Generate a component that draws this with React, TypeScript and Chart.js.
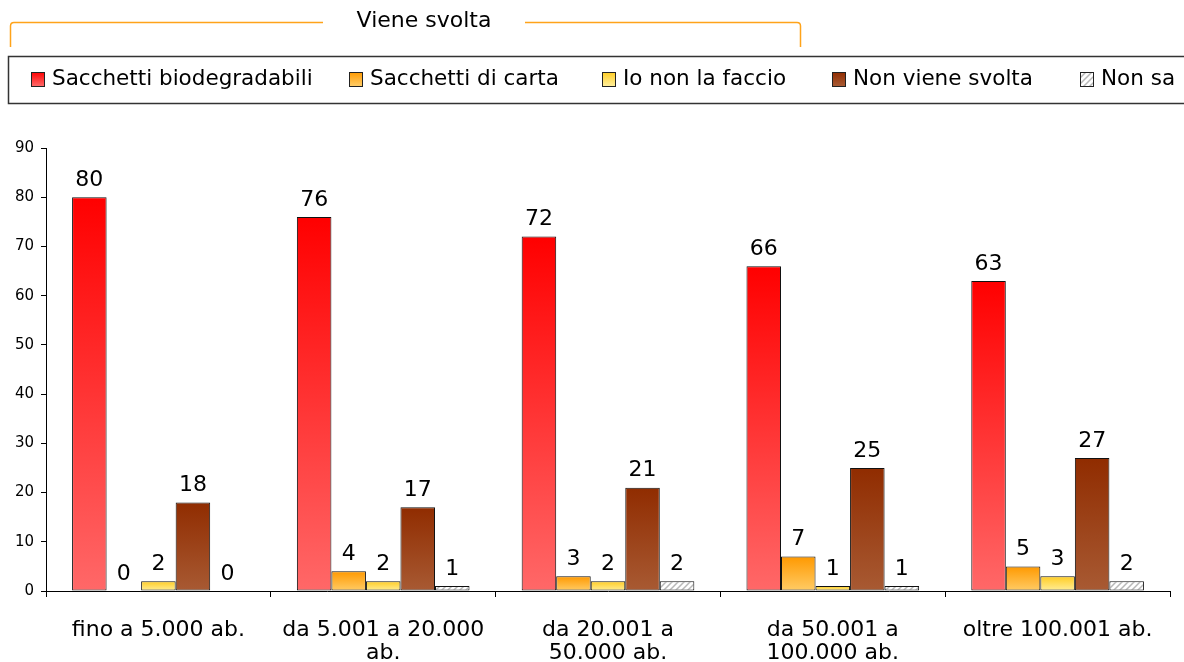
import React, { useEffect, useRef } from "react";
import { Chart, registerables } from "chart.js";

Chart.register(...registerables);

const categories: string[][] = [
  ["fino a 5.000 ab."],
  ["da 5.001 a 20.000", "ab."],
  ["da 20.001 a", "50.000 ab."],
  ["da 50.001 a", "100.000 ab."],
  ["oltre 100.001 ab."],
];
const seriesNames = [
  "Sacchetti biodegradabili",
  "Sacchetti di carta",
  "Io non la faccio",
  "Non viene svolta",
  "Non sa",
];
const biodegradabili = [80, 76, 72, 66, 63];
const carta = [0, 4, 3, 7, 5];
const nonLaFaccio = [2, 2, 2, 1, 3];
const nonVieneSvolta = [18, 17, 21, 25, 27];
const nonSa = [0, 1, 2, 1, 2];
const yMin = 0;
const yMax = 90;
const yStep = 10;
const bracketTitle = "Viene svolta";

const FONT = "'DejaVu Sans', Verdana, sans-serif";

// gradient colors [top, bottom]; null = hatch pattern
const seriesColors: ([string, string] | null)[] = [
  ["#FF0000", "#FF6868"],
  ["#FF9900", "#FFCC66"],
  ["#FFCC22", "#FFEE99"],
  ["#902C00", "#A85A33"],
  null,
];
const legendTextX = [52, 370, 623, 853, 1101];

function makeHatch(ctx: CanvasRenderingContext2D): CanvasPattern | string {
  const c = document.createElement("canvas");
  c.width = 6;
  c.height = 6;
  const p = c.getContext("2d");
  if (!p) return "#ddd";
  p.fillStyle = "#ffffff";
  p.fillRect(0, 0, 6, 6);
  p.strokeStyle = "#b8b8b8";
  p.lineWidth = 1.5;
  p.beginPath();
  p.moveTo(0, 6);
  p.lineTo(6, 0);
  p.moveTo(-3, 3);
  p.lineTo(3, -3);
  p.moveTo(3, 9);
  p.lineTo(9, 3);
  p.stroke();
  return ctx.createPattern(c, "repeat") || "#ddd";
}

const valueLabels = {
  id: "valueLabels",
  afterDatasetsDraw(chart: any) {
    const ctx = chart.ctx;
    ctx.save();
    ctx.font = `22px ${FONT}`;
    ctx.fillStyle = "#000";
    ctx.textAlign = "center";
    ctx.textBaseline = "bottom";
    chart.data.datasets.forEach((ds: any, i: number) => {
      const meta = chart.getDatasetMeta(i);
      meta.data.forEach((el: any, j: number) => {
        ctx.fillText(String(ds.data[j]), el.x, el.y - 6);
      });
    });
    ctx.restore();
  },
};

const headerPlugin = {
  id: "header",
  afterDraw(chart: any) {
    const ctx: CanvasRenderingContext2D = chart.ctx;
    ctx.save();
    // bracket
    ctx.strokeStyle = "#FFA31A";
    ctx.lineWidth = 1.5;
    ctx.beginPath();
    ctx.moveTo(10.5, 47);
    ctx.lineTo(10.5, 26);
    ctx.quadraticCurveTo(10.5, 22.5, 14, 22.5);
    ctx.lineTo(323, 22.5);
    ctx.moveTo(525, 22.5);
    ctx.lineTo(797, 22.5);
    ctx.quadraticCurveTo(800.5, 22.5, 800.5, 26);
    ctx.lineTo(800.5, 47);
    ctx.stroke();
    ctx.font = `22px ${FONT}`;
    ctx.fillStyle = "#000";
    ctx.textAlign = "center";
    ctx.textBaseline = "middle";
    ctx.fillText(bracketTitle, 424, 21);
    // legend box
    ctx.strokeStyle = "#333";
    ctx.lineWidth = 1.5;
    ctx.strokeRect(8.5, 56.5, 1220, 47);
    ctx.textAlign = "left";
    ctx.font = `21.5px ${FONT}`;
    seriesNames.forEach((name, i) => {
      const tx = legendTextX[i];
      const x = tx - 21;
      const y = 72;
      const col = seriesColors[i];
      if (col) {
        const g = ctx.createLinearGradient(0, y, 0, y + 14);
        g.addColorStop(0, col[0]);
        g.addColorStop(1, col[1]);
        ctx.fillStyle = g;
      } else {
        ctx.fillStyle = makeHatch(ctx);
      }
      ctx.fillRect(x, y, 13, 14);
      ctx.strokeStyle = "#222";
      ctx.lineWidth = 1;
      ctx.strokeRect(x + 0.5, y + 0.5, 13, 14);
      ctx.fillStyle = "#000";
      ctx.fillText(name, tx, 79);
    });
    ctx.restore();
  },
};

export default function App() {
  const ref = useRef<HTMLCanvasElement>(null);
  useEffect(() => {
    document.body.style.margin = "0";
    const canvas = ref.current;
    if (!canvas) return;
    const seriesData = [biodegradabili, carta, nonLaFaccio, nonVieneSvolta, nonSa];
    const c2d = canvas.getContext("2d")!;
    const hatch = makeHatch(c2d);
    const datasets = seriesNames.map((name, i) => ({
      label: name,
      data: seriesData[i],
      borderColor: "#111",
      borderWidth: 1,
      borderSkipped: false,
      backgroundColor: (ctx: any) => {
        const col = seriesColors[i];
        if (!col) return hatch;
        const chart = ctx.chart;
        if (!chart.chartArea || ctx.type !== "data" || !chart.scales.y) return col[0];
        const yTop = chart.scales.y.getPixelForValue(ctx.raw);
        const yBot = chart.scales.y.getPixelForValue(0);
        if (yBot - yTop < 1) return col[0];
        const g = chart.ctx.createLinearGradient(0, yTop, 0, yBot);
        g.addColorStop(0, col[0]);
        g.addColorStop(1, col[1]);
        return g;
      },
    }));
    const chart = new Chart(canvas, {
      type: "bar",
      data: { labels: categories, datasets },
      options: {
        responsive: false,
        animation: false,
        devicePixelRatio: 1,
        layout: { padding: { top: 148, right: 14, left: 0, bottom: 0 } },
        plugins: { legend: { display: false }, tooltip: { enabled: false } },
        datasets: { bar: { categoryPercentage: 0.768, barPercentage: 1 } },
        scales: {
          x: {
            grid: {
              display: true,
              drawOnChartArea: false,
              offset: true,
              tickLength: 6,
              color: "#000",
            },
            border: { color: "#000", width: 1 },
            ticks: {
              color: "#000",
              font: { family: FONT, size: 22, lineHeight: 1.05 },
              padding: 22,
              maxRotation: 0,
              autoSkip: false,
            },
            afterFit: (s: any) => {
              s.height = 71;
            },
          },
          y: {
            min: yMin,
            max: yMax,
            grid: { display: true, drawOnChartArea: false, tickLength: 5, color: "#000" },
            border: { color: "#000", width: 1 },
            ticks: {
              stepSize: yStep,
              color: "#000",
              font: { family: FONT, size: 15 },
              padding: 7,
            },
            afterFit: (s: any) => {
              s.width = 46;
            },
          },
        },
      } as any,
      plugins: [valueLabels, headerPlugin],
    });
    return () => chart.destroy();
  }, []);
  return (
    <div style={{ position: "relative", width: 1184, height: 662, background: "#fff" }}>
      <canvas ref={ref} width={1184} height={662} />
    </div>
  );
}
